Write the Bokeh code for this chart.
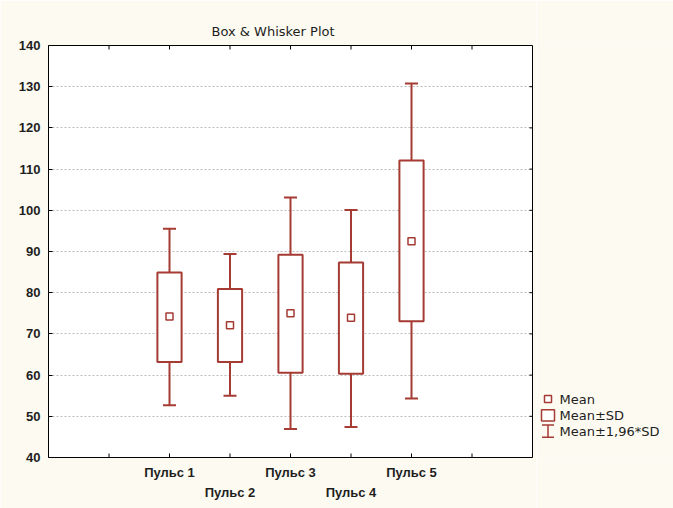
import math
from bokeh.plotting import figure
from bokeh.models import ColumnDataSource, FixedTicker, Range1d
from bokeh.layouts import row
from bokeh.embed import file_html
from bokeh.resources import INLINE
from bokeh.core.properties import value

# ---- data ----
categories = ["Пульс 1", "Пульс 2", "Пульс 3", "Пульс 4", "Пульс 5"]
means = [74.2, 72.1, 75.0, 73.9, 92.5]
sd_low = [63.2, 63.2, 60.6, 60.3, 73.1]
sd_high = [84.9, 80.9, 89.2, 87.3, 112.1]
ci_low = [52.7, 55.0, 46.9, 47.4, 54.3]
ci_high = [95.5, 89.4, 103.1, 100.1, 130.8]
y_ticks = [40, 50, 60, 70, 80, 90, 100, 110, 120, 130, 140]
title_text = "Box & Whisker Plot"
legend_labels = ["Mean", "Mean±SD", "Mean±1,96*SD"]

RED = "#a53b33"
CREAM = "#fcfaf1"
TXT = "#1e1e1e"

xs = list(range(1, len(categories) + 1))
x_ticks = list(range(0, len(categories) + 2))
X0, X1 = -1, len(categories) + 2
Y0, Y1 = y_ticks[0], y_ticks[-1]
src = ColumnDataSource(dict(x=xs, mean=means, lo=sd_low, hi=sd_high,
                            wlo=ci_low, whi=ci_high))

p = figure(width=536, height=508, x_range=Range1d(X0, X1), y_range=Range1d(Y0, Y1),
           output_backend="svg", toolbar_location=None, title=title_text,
           min_border_left=48, min_border_right=4, min_border_top=45,
           min_border_bottom=51, background_fill_color="white",
           border_fill_color=CREAM)
p.outline_line_color = "black"
p.outline_line_width = 1
p.outline_line_alpha = 1

p.title.text_font = "DejaVu Sans"
p.title.text_font_size = "13px"
p.title.text_font_style = "normal"
p.title.text_color = TXT
p.title.align = "left"
p.title.offset = 163
p.title.vertical_align = "top"
p.title.standoff = 10

# bottom axis with staggered labels
overrides = {}
for i, name in enumerate(categories):
    overrides[i + 1] = ("\n" if i % 2 == 1 else "") + name
xa = p.xaxis[0]
xa.ticker = FixedTicker(ticks=xs)
xa.major_label_overrides = overrides
xa.major_tick_in = 0
xa.major_tick_out = 0
xa.major_tick_line_color = None
xa.minor_tick_line_color = None
xa.axis_line_color = None
xa.major_label_standoff = 7
xa.major_label_text_font = "Liberation Sans"
xa.major_label_text_font_size = "13px"
xa.major_label_text_font_style = "bold"
xa.major_label_text_color = TXT
xa.major_label_text_line_height = 1.35

ya = p.yaxis[0]
ya.ticker = FixedTicker(ticks=y_ticks)
ya.major_tick_in = 4
ya.major_tick_out = 0
ya.minor_tick_line_color = None
ya.axis_line_color = None
ya.major_tick_line_color = "black"
ya.major_label_standoff = 8
ya.major_label_text_font = "Liberation Sans"
ya.major_label_text_font_size = "13px"
ya.major_label_text_font_style = "bold"
ya.major_label_text_color = TXT

p.xgrid.visible = False
p.ygrid.ticker = FixedTicker(ticks=y_ticks[1:-1])
p.ygrid.grid_line_color = "#bcbcbc"
p.ygrid.grid_line_dash = "2 2"
p.ygrid.grid_line_width = 1

# inside ticks on the frame edges (markers centred on the edge, clipped by the frame)
p.scatter(x=x_ticks, y=[Y0] * len(x_ticks), marker="dash", angle=math.pi / 2, size=8,
          line_color="black", line_width=1)
p.scatter(x=x_ticks, y=[Y1] * len(x_ticks), marker="dash", angle=math.pi / 2, size=8,
          line_color="black", line_width=1)
p.scatter(x=[X1] * len(y_ticks), y=y_ticks, marker="dash", size=6,
          line_color="black", line_width=1)

# whiskers
p.segment(x0="x", y0="wlo", x1="x", y1="whi", source=src, line_color=RED, line_width=2)
p.scatter(x="x", y="whi", marker="dash", size=13, line_color=RED, line_width=2, source=src)
p.scatter(x="x", y="wlo", marker="dash", size=13, line_color=RED, line_width=2, source=src)
# boxes
p.vbar(x="x", width=0.4, bottom="lo", top="hi", fill_color="white",
       line_color=RED, line_width=2, source=src)
# means
p.scatter(x="x", y="mean", marker="square", size=7, fill_color="white",
          line_color=RED, line_width=1.5, source=src)

# ---- legend panel ----
LW, LH = 137, 508
leg = figure(width=LW, height=LH, x_range=Range1d(0, LW), y_range=Range1d(LH, 0),
             output_backend="svg", toolbar_location=None, title=None,
             x_axis_type=None, y_axis_type=None, min_border=0,
             background_fill_color=CREAM, border_fill_color=CREAM)
leg.outline_line_color = None
leg.xgrid.visible = False
leg.ygrid.visible = False

gx = 11.5
tx = 23
row_y = [436, 456, 475.5]
leg.scatter(x=[gx], y=[row_y[0]], marker="square", size=7, fill_color="white",
            line_color=RED, line_width=1.5)
leg.rect(x=[gx], y=[row_y[1]], width=13, height=14, fill_color="white",
         line_color=RED, line_width=1.5)
leg.segment(x0=[gx], y0=[row_y[2] - 7.5], x1=[gx], y1=[row_y[2] + 7.5],
            line_color=RED, line_width=1.5)
leg.scatter(x=[gx, gx], y=[row_y[2] - 7.5, row_y[2] + 7.5], marker="dash", size=12,
            line_color=RED, line_width=1.5)
leg.text(x=[tx] * 3, y=row_y, text=legend_labels, text_font=value("DejaVu Sans"),
         text_font_size="13px", text_baseline="middle", text_color=TXT)

layout = row(p, leg)
open("out.html", "w").write(file_html(layout, INLINE))
